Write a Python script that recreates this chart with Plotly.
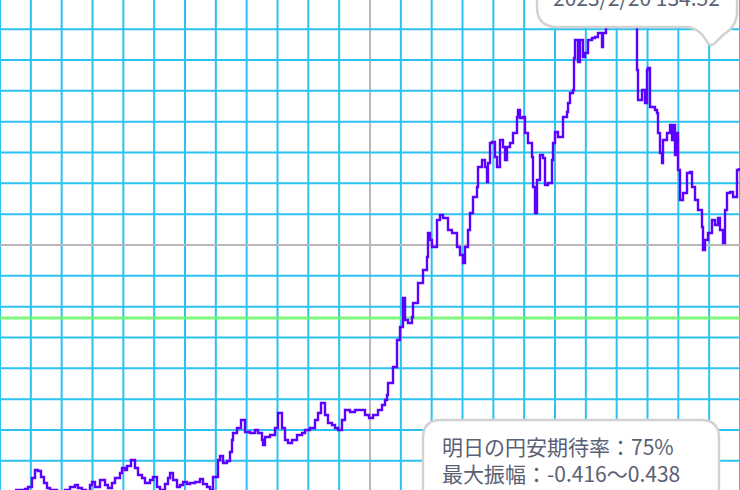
import pandas as pd
import plotly.graph_objects as go

# ---- data (USD/JPY-like series) ----
day_offsets = [15, 25, 28, 32, 35, 38, 41, 44, 47, 50, 57, 65, 70, 75, 78, 82, 86, 90, 92, 95,
               100, 105, 108, 112, 115, 120, 122, 125, 127, 131, 135, 138, 142, 145, 150, 153, 157, 160, 165, 168,
               170, 173, 177, 180, 183, 187, 190, 195, 200, 203, 207, 210, 213, 218, 220, 223, 227, 230, 232, 233,
               237, 241, 245, 250, 255, 258, 262, 263, 265, 270, 275, 278, 282, 285, 288, 292, 297, 302, 305, 310,
               315, 318, 321, 325, 328, 332, 335, 338, 342, 345, 350, 355, 360, 365, 369, 373, 378, 382, 385, 387,
               388, 393, 397, 400, 403, 405, 408, 412, 413, 418, 423, 427, 428, 430, 432, 437, 440, 443, 448, 452,
               457, 460, 463, 465, 468, 470, 473, 477, 478, 482, 485, 487, 488, 490, 492, 495, 497, 500, 503, 505,
               507, 510, 513, 517, 518, 520, 523, 525, 528, 532, 533, 535, 537, 540, 543, 545, 548, 552, 553, 555,
               558, 562, 563, 567, 568, 570, 573, 574, 575, 578, 580, 583, 585, 588, 592, 595, 598, 602, 603, 606,
               608, 612, 618, 624, 630, 634, 637, 638, 642, 645, 647, 648, 650, 655, 657, 658, 660, 662, 663, 667,
               670, 672, 673, 675, 677, 678, 680, 683, 687, 690, 692, 695, 698, 702, 703, 705, 708, 712, 715, 718,
               720, 723, 725, 727, 730, 733, 737, 739]
rate = [105.77, 105.86, 106.04, 106.84, 107.56, 107.47, 106.93, 106.39, 105.95, 105.77, 105.41, 105.77, 106.04, 106.22, 105.95, 105.77, 105.59, 106.22, 106.48, 106.04,
        106.66, 106.22, 105.95, 106.39, 106.84, 107.29, 107.73, 107.56, 107.91, 108.45, 107.73, 107.11, 106.84, 106.39, 106.66, 106.93, 106.04, 105.77, 106.31, 106.84,
        107.29, 106.66, 106.04, 106.22, 106.48, 106.31, 106.39, 106.48, 106.75, 106.31, 106.04, 105.77, 106.93, 108.45, 108.81, 108.18, 108.36, 109.16, 110.23, 110.86,
        111.31, 112.02, 110.95, 110.86, 111.13, 110.86, 110.23, 109.79, 110.50, 110.68, 111.31, 112.64, 111.31, 110.23, 109.97, 110.23, 110.68, 110.86, 111.13, 111.31,
        112.02, 112.64, 113.54, 112.47, 111.75, 111.57, 111.31, 111.13, 112.02, 112.91, 112.73, 112.91, 112.91, 112.47, 112.20, 112.47, 112.91, 113.36, 113.81, 114.25,
        115.32, 116.75, 119.16, 120.32, 122.91, 120.95, 120.68, 121.22, 122.47, 124.25, 125.41, 126.57, 128.72, 128.09, 127.47, 129.88, 130.32, 130.06, 128.98, 128.72,
        127.47, 126.75, 126.04, 127.47, 128.98, 130.50, 131.93, 132.82, 134.61, 135.23, 134.61, 133.27, 134.97, 136.75, 136.84, 135.50, 134.61, 137.02, 136.39, 135.23,
        136.39, 136.75, 137.64, 139.07, 139.70, 138.98, 139.07, 137.64, 136.75, 135.50, 132.82, 130.50, 133.45, 135.68, 135.41, 133.00, 133.18, 135.23, 136.75, 137.73,
        137.29, 137.29, 139.07, 139.52, 140.32, 141.22, 141.48, 144.34, 145.95, 143.98, 145.95, 144.43, 144.79, 145.95, 146.13, 146.22, 146.57, 145.32, 146.57, 147.11,
        148.63, 149.52, 151.31, 152.20, 150.86, 149.97, 143.27, 140.59, 141.48, 140.32, 143.27, 143.45, 139.97, 139.70, 139.43, 137.64, 135.86, 134.97, 137.02, 137.64,
        138.36, 137.02, 138.36, 135.68, 137.64, 134.34, 131.66, 132.29, 134.07, 134.16, 132.82, 131.66, 130.77, 129.25, 127.20, 128.09, 128.72, 129.88, 129.43, 130.06,
        128.98, 127.82, 130.77, 132.29, 132.38, 131.93, 134.34, 134.52]
reference_rate = 121.13
last_label = "2023/2/20 134.52"
info_lines = ["明日の円安期待率：75%", "最大振幅：-0.416～0.438"]

W, H = 740, 490
end_date = pd.Timestamp("2023-02-20")
start = end_date - pd.Timedelta(days=739)
dates = [start + pd.Timedelta(days=d) for d in day_offsets]
x_range = [start, start + pd.Timedelta(days=740)]
y_range = [149.52 - H / 11.2, 149.52]

def pp(x, y):
    return f"{x / W:.5f},{1 - y / H:.5f}"

shapes = []
cell = W / 24
cyan = "#2cc2ef"
gray = "#b8b8b8"
for k in range(-12, 13):
    xp = 0.5 + k / 24
    shapes.append(dict(type="line", xref="paper", yref="paper", x0=xp, x1=xp, y0=0, y1=1,
                       line=dict(color=gray if k == 0 else cyan, width=2), layer="below"))
for k in range(-8, 9):
    yp = 0.5 + k * cell / H
    if 0 <= yp <= 1:
        shapes.append(dict(type="line", xref="paper", yref="paper", x0=0, x1=1, y0=yp, y1=yp,
                           line=dict(color=gray if k == 0 else cyan, width=2), layer="below"))
shapes.append(dict(type="line", xref="paper", yref="y", x0=0, x1=1, y0=reference_rate, y1=reference_rate,
                   line=dict(color="rgba(110,250,110,0.9)", width=3), layer="below"))

top_path = ("M " + pp(537, -40) + " L " + pp(737, -40) + " L " + pp(737, 15) +
            " Q " + pp(735, 28) + " " + pp(723, 35) + " L " + pp(714, 44) +
            " Q " + pp(709, 47) + " " + pp(706, 40) + " Q " + pp(700, 29) + " " + pp(688, 27) +
            " L " + pp(557, 27) + " Q " + pp(537, 27) + " " + pp(537, 7) + " Z")
bot_path = ("M " + pp(441, 420) + " L " + pp(701, 420) + " Q " + pp(719, 420) + " " + pp(719, 438) +
            " L " + pp(719, 530) + " L " + pp(423, 530) + " L " + pp(423, 438) +
            " Q " + pp(423, 420) + " " + pp(441, 420) + " Z")
for p in (top_path, bot_path):
    shapes.append(dict(type="path", xref="paper", yref="paper", path=p,
                       fillcolor="white", line=dict(color="#d2d2d2", width=2.5), layer="above"))

fig = go.Figure()
fig.add_trace(go.Scatter(x=dates, y=rate, mode="lines", line=dict(color="#5c00ff", width=2.4, shape="hv"),
                         hoverinfo="skip", showlegend=False))

font = dict(family="Noto Sans CJK JP, Noto Sans, sans-serif", size=21, color="#5a6175")
annotations = [
    dict(xref="paper", yref="paper", x=551 / W, y=1 - 14 / H, xanchor="left", yanchor="bottom",
         text=last_label, showarrow=False, font=font),
    dict(xref="paper", yref="paper", x=440 / W, y=1 - 459 / H, xanchor="left", yanchor="middle",
         text="<br>".join(info_lines), showarrow=False, align="left", font=font),
]

fig.update_layout(width=W, height=H, margin=dict(l=0, r=0, t=0, b=0),
                  paper_bgcolor="white", plot_bgcolor="white",
                  shapes=shapes, annotations=annotations, showlegend=False,
                  xaxis=dict(range=x_range, visible=False, fixedrange=True),
                  yaxis=dict(range=y_range, visible=False, fixedrange=True))
fig.write_html("out.html", config={"displayModeBar": False},
               post_script="document.body.style.margin='0';document.body.style.overflow='hidden';")
